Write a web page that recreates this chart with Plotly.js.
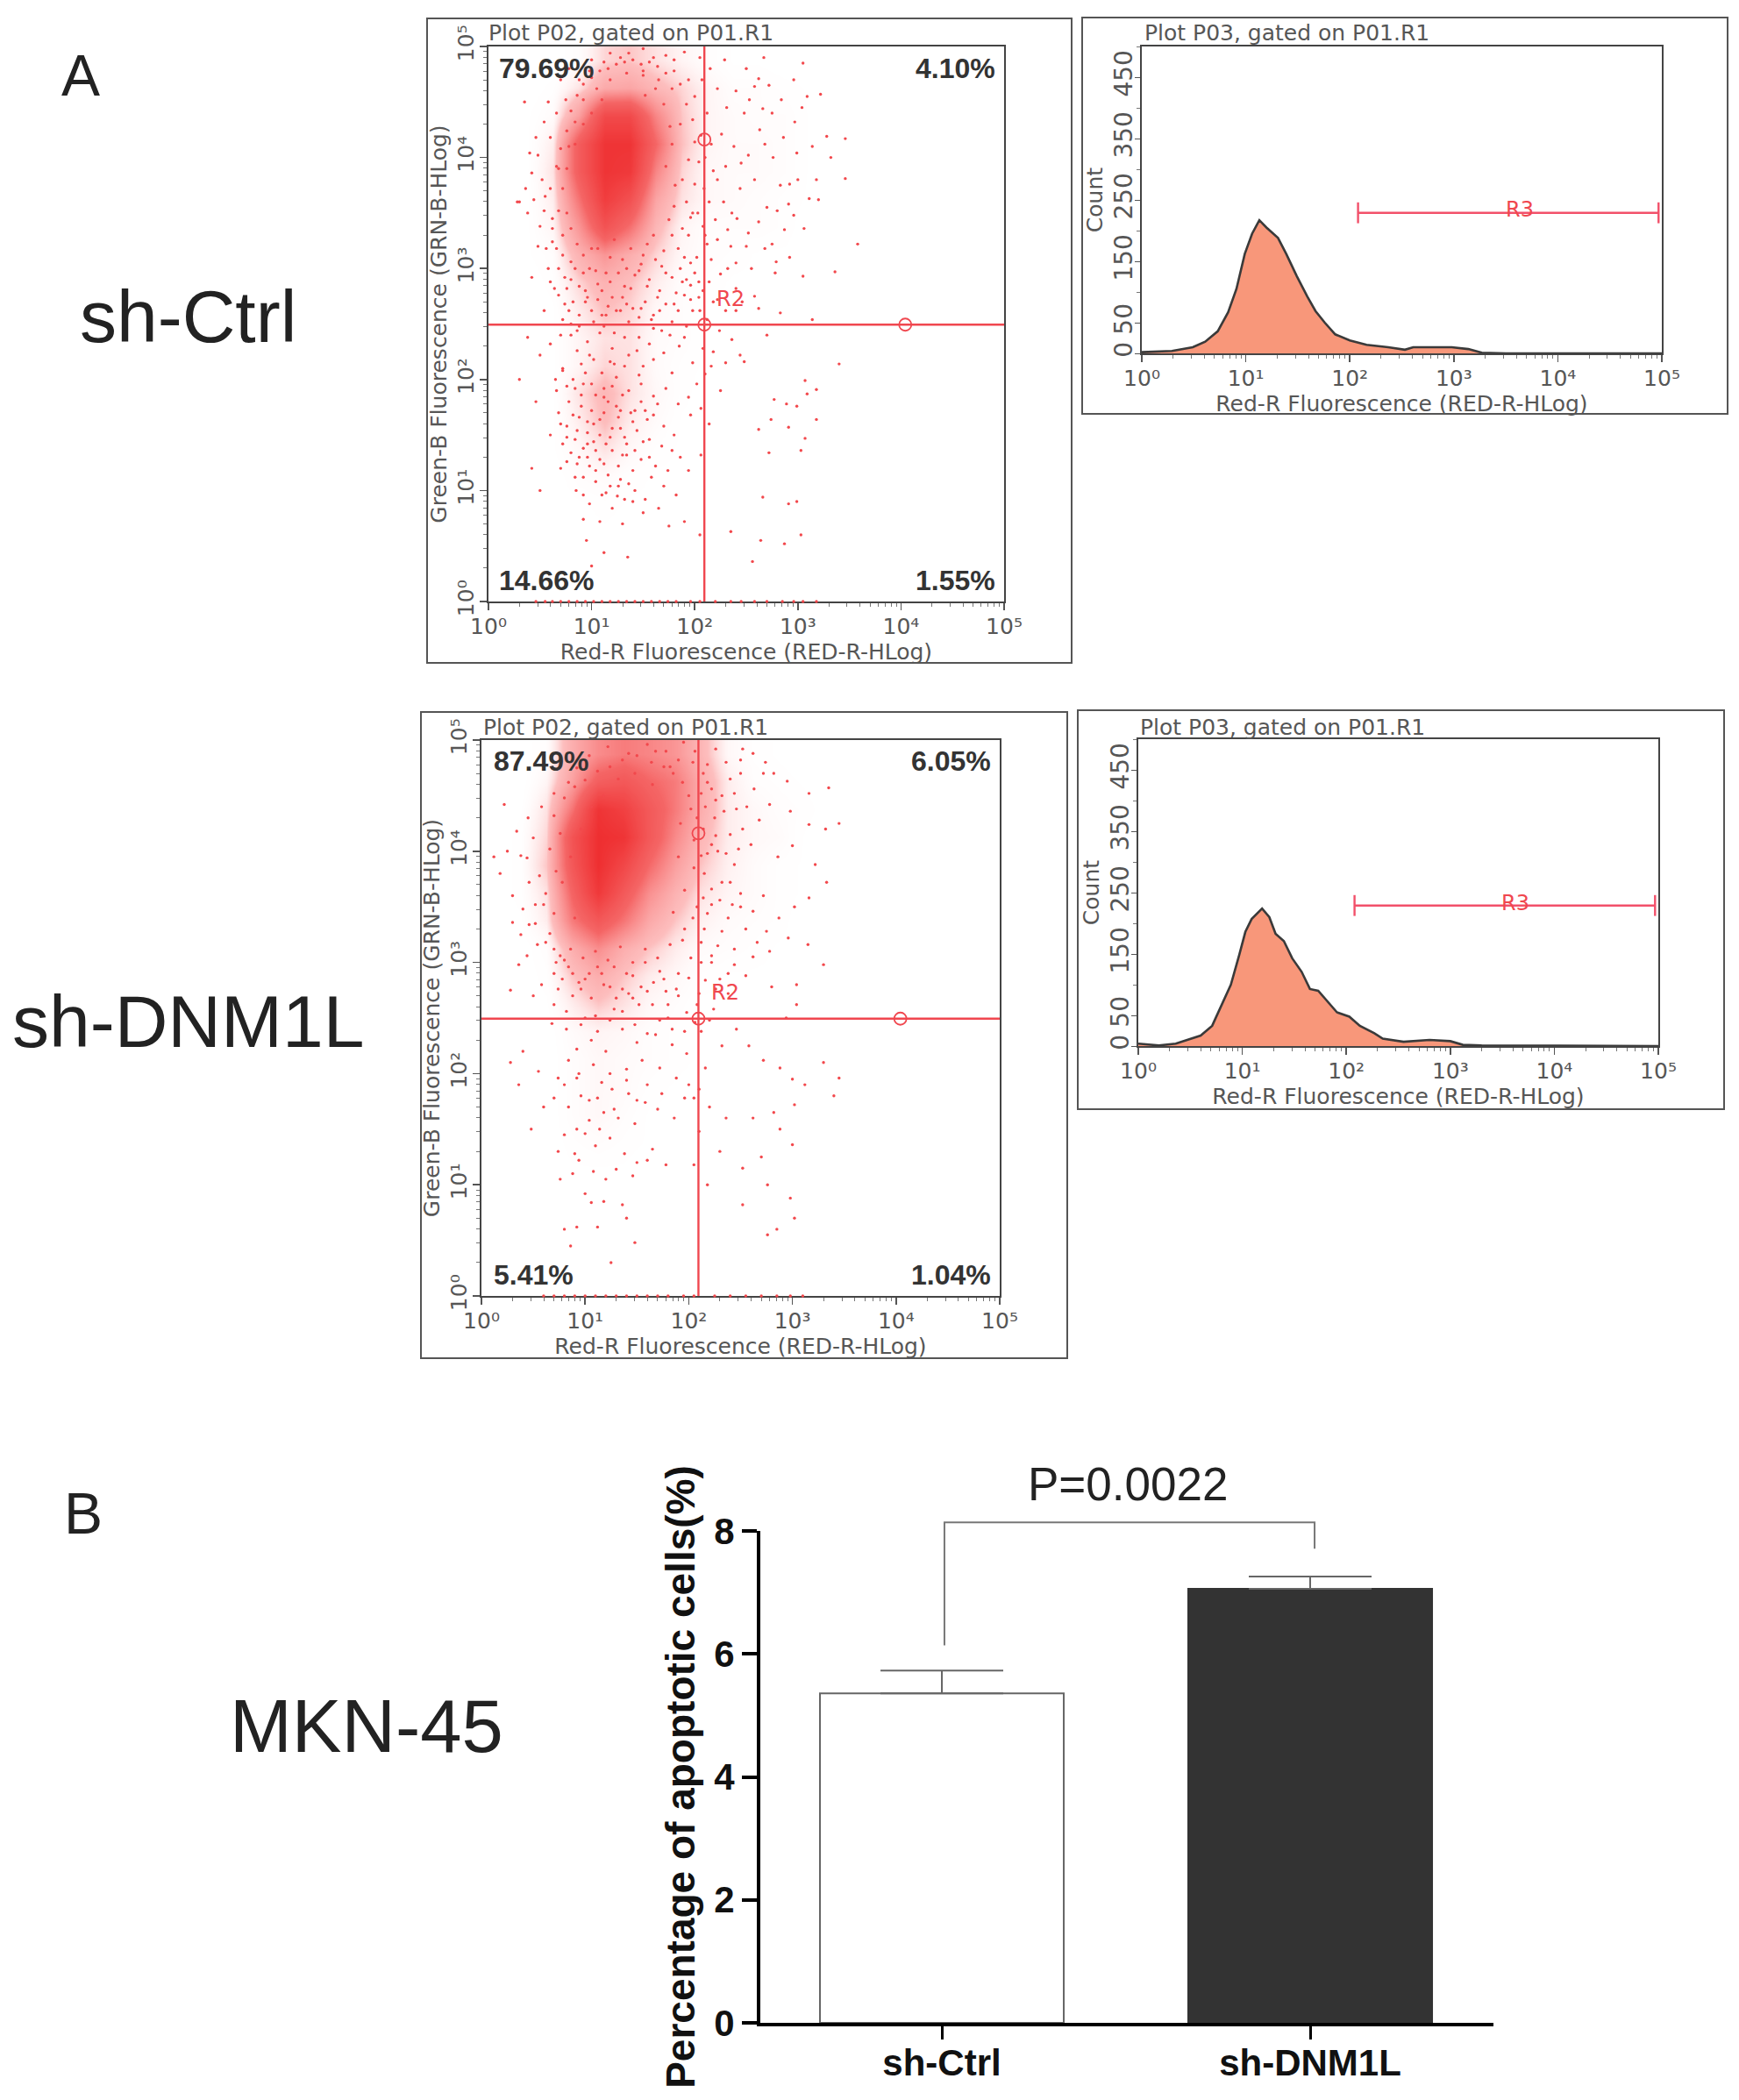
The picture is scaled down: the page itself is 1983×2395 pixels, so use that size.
<!DOCTYPE html>
<html><head><meta charset="utf-8">
<script src="https://cdn.plot.ly/plotly-3.0.1.min.js"></script>
<style>html,body{margin:0;padding:0;background:#fff}</style></head><body>
<div id="g" style="width:1983px;height:2395px"></div>
<script>
// ---------- data (dot clouds: pairs of x,y in hundredths of a decade) ----------
const decadeValues=[1,10,100,1000,10000,100000];
const decadeLabels=['10⁰','10¹','10²','10³','10⁴','10⁵'];
const minorLogTicks=[2,3,4,5,6,7,8,9,20,30,40,50,60,70,80,90,200,300,400,500,600,700,800,900,2000,3000,4000,5000,6000,7000,8000,9000,20000,30000,40000,50000,60000,70000,80000,90000];
const countTicks=[0,50,150,250,350,450];
const countMinor=[100,200,300,400,500];
const gridX=[0,25,50,75,100,125,150,175,200,225,250,275,300,325,350];
const gridY=[0,25,50,75,100,125,150,175,200,225,250,275,300,325,350,375,400,425,450,475,500];
// density rows, bottom to top, columns x=0..3.5 decades (percent of solid red)
const ctrlDensity=[
[0,0,0,0,0,0,0,0,0,0,0,0,0,0],
[0,0,0,0,0,0,0,0,0,0,0,0,0,0],
[0,0,0,0,1,0,0,0,0,0,0,0,0,0],
[0,0,0,1,2,1,1,0,0,0,0,0,0,0],
[0,0,0,3,4,2,1,1,0,0,0,1,0,0],
[0,0,1,5,10,5,2,1,0,0,0,1,0,0],
[0,0,1,8,16,8,4,1,0,0,1,1,0,0],
[0,0,1,10,18,10,5,2,0,1,1,1,0,0],
[0,0,1,6,12,10,4,2,1,1,1,1,0,0],
[0,0,1,6,10,10,4,3,1,0,1,0,0,0],
[0,0,1,8,15,12,5,3,1,1,0,0,0,0],
[0,0,2,12,20,15,8,3,2,1,1,1,0,0],
[0,1,3,20,32,22,12,5,3,2,1,1,0,0],
[0,1,6,32,66,46,18,6,3,3,3,2,0,0],
[0,1,8,45,85,68,26,10,5,4,3,2,1,0],
[0,1,10,58,92,88,38,12,5,4,4,3,1,0],
[0,1,8,58,92,92,50,15,6,4,4,3,1,0],
[0,1,4,28,74,74,38,14,6,4,3,3,1,0],
[0,0,2,10,24,26,18,12,6,3,3,2,1,0],
[0,0,0,3,12,14,10,6,3,1,1,0,0,0]];
const dnmDensity=[
[0,0,0,0,0,0,0,0,0,0,0,0,0,0],
[0,0,0,0,0,0,0,0,0,0,0,0,0,0],
[0,0,0,0,0,0,0,0,0,0,0,0,0,0],
[0,0,0,0,1,0,0,0,0,0,0,0,0,0],
[0,0,0,1,1,1,0,0,0,0,0,0,0,0],
[0,0,0,2,3,2,1,0,0,0,0,0,0,0],
[0,0,0,3,5,3,1,1,0,0,0,1,0,0],
[0,0,0,3,5,4,2,1,0,1,1,1,0,0],
[0,0,0,3,5,4,3,2,1,1,1,1,0,0],
[0,0,0,4,6,5,3,2,1,0,0,0,0,0],
[0,0,1,8,14,10,5,3,1,1,0,0,0,0],
[0,0,2,14,22,14,8,5,2,1,1,1,0,0],
[0,0,3,22,35,22,14,8,4,3,2,1,0,0],
[0,1,8,42,62,44,24,14,7,4,3,2,0,0],
[0,2,10,52,88,60,34,20,10,6,4,2,1,0],
[0,2,14,62,96,76,48,28,14,7,4,2,1,0],
[0,2,12,66,96,92,60,36,18,8,5,4,1,0],
[0,1,10,45,92,82,60,42,22,8,5,3,2,0],
[0,0,6,28,56,62,50,42,22,8,3,2,1,0],
[0,0,3,22,36,42,38,32,18,5,2,1,0,0]];
const ctrlDots=[267,490,305,485,229,488,262,471,272,465,309,455,322,457,297,432,328,419,346,417,299,404,332,400,283,375,346,381,311,363,320,362,291,358,358,322,336,297,305,293,279,306,283,260,314,254,248,216,244,222,340,214,277,182,289,178,309,187,318,191,307,199,299,176,318,164,262,155,274,164,291,157,307,147,303,136,272,134,299,90,266,94,291,88,235,63,264,55,303,60,287,52,256,36,
215,480,222,462,231,445,212,440,226,421,238,410,245,395,218,388,209,372,228,360,241,345,252,332,235,320,216,308,225,295,240,282,258,275,210,330,203,350,252,402,263,425,275,440,286,418,258,380,270,355,262,342,287,335,275,322,292,310,255,300,248,440,240,460,253,452,268,412,206,420,200,455,207,470,
190,495,172,492,150,498,128,490,112,486,98,478,88,470,75,452,66,440,60,418,48,402,42,386,35,450,28,360,55,365,62,345,72,330,50,338,68,390,78,410,84,432,92,452,105,462,118,470,134,476,150,478,165,470,178,462,192,448,186,430,178,412,172,392,181,375,192,360,175,344,160,330,184,318,196,305,168,302,150,312,134,300,118,310,100,318,86,322,72,312,58,300,64,282,74,268,80,290,92,296,106,286,120,274,138,282,152,270,166,262,182,278,196,285,205,262,192,248,176,240,160,246,146,256,128,262,110,258,94,270,80,250,70,240,54,262,42,292,30,360,
88,248,96,234,108,242,120,228,132,238,144,226,156,232,170,224,185,230,198,215,210,205,225,190,150,212,132,212,118,216,102,218,90,214,82,200,72,208,66,190,78,180,90,186,100,196,112,192,124,202,136,190,148,196,160,185,172,192,184,178,196,168,152,172,138,170,124,176,112,170,100,172,88,166,76,158,68,170,60,150,72,142,84,146,96,152,108,150,120,156,132,148,144,154,156,146,168,140,180,150,148,128,134,132,120,136,108,128,96,130,86,124,76,126,92,112,104,108,116,114,128,110,140,118,158,112,170,104,182,96,110,96,98,88,120,84,92,74,108,72,130,70,150,80,175,68,95,55,112,44,135,40,100,32,42,120,50,100,30,200,72,210,
65,200,50,222,38,238,60,232,46,180,70,120,85,100,125,95,140,90,165,84,190,72,205,60,
80,240,86,226,94,206,98,222,104,186,110,206,116,180,122,214,126,166,130,186,136,222,142,172,146,204,154,164,160,218,164,178,170,158,178,206,84,192,90,176,96,162,102,144,108,164,114,142,120,194,128,156,134,142,142,136,150,144,156,130,86,154,92,138,98,122,104,136,112,124,118,104,126,122,76,194,70,160,80,134,136,106,92,96,84,112,
76,282,82,270,88,258,94,280,100,262,106,272,112,248,118,288,124,262,130,274,136,252,142,294,148,264,154,284,160,258,166,280,172,268,178,292,184,262,190,276,198,262,204,288,84,300,92,312,98,300,106,318,114,296,122,326,130,308,138,318,146,298,154,322,162,308,170,316,178,330,186,300,194,330,202,310,212,322,
66,318,62,336,68,352,60,372,66,392,70,408,76,424,80,442,86,456,92,466,100,472,108,478,116,480,124,484,132,486,140,488,148,484,156,486,164,482,172,476,180,478,186,466,194,470,198,434,204,396,200,376,196,346,188,336,180,356,176,428,170,448,162,462,152,456,110,452,100,440,92,430,84,412,76,390,72,372,76,350,80,336,
48,320,56,318,38,350,44,362,52,380,46,418,54,432,58,450,70,470,78,480,62,324,54,352,40,404,36,372,
100,488,118,494,136,494,160,490,180,488,205,490,150,474,214,360,208,338,220,344,222,326,232,300,214,288,204,274,218,270,212,254,224,244,236,236,240,262,246,270,230,215,218,225,
68,300,74,292,80,306,88,284,96,274,104,298,110,280,116,266,126,296,132,284,140,264,148,304,156,290,164,274,172,296,180,268,188,288,196,272,200,296,208,280,72,254,78,262,86,244,102,252,114,258,122,242,134,268,146,238,158,254,168,244,178,252,190,238,60,288,68,276,
188,380,194,398,200,414,198,350,190,310,192,290,210,400,216,412,222,380,230,392,236,350,244,372,232,335,240,305,250,320,222,272,230,262,208,228,216,212,202,196,194,184,206,174,214,160,186,130,178,136,194,118,206,132,
250,480,258,464,266,444,276,400,284,452,296,470,304,445,314,410,318,380,300,380,292,376,280,352,306,336,296,348,268,318,278,296,262,264,270,240,
92,196,102,160,112,184,118,148,128,172,130,132,140,162,148,180,160,168,82,168,76,148,88,130,96,142,104,118,114,98,126,104,132,92,142,100,152,92,162,122,174,118,
46,0,55,0,62,0,70,0,78,0,86,0,94,0,102,0,110,0,118,0,126,0,134,0,142,0,150,0,158,0,166,0,174,0,182,0,196,0,205,0,220,0,235,0,245,0,258,0,270,0,285,0,296,0,305,0,318,0];
const dnmDots=[252,492,274,480,282,470,295,463,316,452,335,457,250,470,263,456,278,442,298,436,316,424,332,420,345,425,300,405,286,395,322,388,333,372,316,358,302,350,287,340,275,328,296,322,315,316,330,298,262,305,255,288,280,278,304,280,304,262,294,250,246,240,258,225,272,212,288,205,300,195,312,190,330,210,345,196,340,180,302,172,282,165,262,160,288,150,300,136,270,125,252,115,276,100,298,88,302,70,252,82,285,60,276,55,
226,492,218,478,240,465,232,450,246,438,225,430,240,415,252,420,228,400,244,388,215,380,232,372,250,362,222,352,238,340,255,330,215,330,228,315,212,300,244,298,230,285,210,272,224,258,212,238,232,225,216,205,200,190,205,178,220,170,236,160,210,148,230,130,205,118,218,100,
195,498,178,490,160,496,142,488,122,494,104,486,92,475,84,462,70,452,58,440,45,430,34,418,25,400,18,380,30,360,46,372,60,352,52,335,38,325,44,306,62,318,72,300,78,285,58,280,50,270,70,262,88,270,100,285,112,296,124,278,140,290,158,300,176,285,190,270,198,255,180,250,165,262,146,268,128,258,110,252,96,244,82,240,68,245,92,222,106,230,120,220,136,240,150,228,168,235,184,226,198,218,172,205,155,212,140,204,124,200,108,208,94,200,80,190,70,178,84,170,96,180,112,178,126,186,142,182,158,174,170,168,186,160,148,155,132,160,118,165,104,158,92,150,80,145,74,130,90,128,110,135,124,142,138,128,150,120,165,132,178,118,108,112,120,105,88,110,76,105,100,92,118,85,136,82,140,70,80,60,92,62,112,62,148,48,86,45,125,30,
40,220,28,210,55,202,60,170,48,150,36,190,
22,442,12,395,28,275,70,312,90,340,78,372,86,395,96,420,106,440,118,450,132,465,148,470,165,460,185,470,200,450,208,430,192,425,205,410,190,395,205,385,196,365,208,350,185,345,196,330,
66,326,70,344,62,362,72,382,66,402,76,416,70,432,80,448,90,458,100,464,112,472,124,476,136,482,150,486,164,480,176,476,190,482,204,480,214,470,222,456,212,452,202,438,214,420,222,406,212,396,222,366,214,358,204,340,212,318,202,304,190,290,178,274,166,282,154,278,142,272,130,268,118,280,106,268,94,282,84,296,76,306,86,312,98,304,110,310,122,302,134,314,146,300,158,312,170,304,182,316,194,320,
100,250,112,238,124,248,136,256,148,244,160,236,172,248,184,240,196,238,206,246,220,248,226,276,238,272,82,256,74,276,
236,480,250,482,262,488,272,470,244,452,256,440,268,428,260,406,248,402,240,372,250,350,262,346,272,360,278,310,266,318,
46,334,52,352,56,378,44,394,50,412,38,396,30,336,40,348,36,298,54,316,
70,290,80,302,88,290,96,276,104,290,116,290,128,296,136,276,146,288,152,262,160,274,172,292,180,262,188,276,200,286,208,262,216,284,222,300,
168,490,182,476,194,462,206,490,218,462,226,446,234,436,216,440,226,414,236,398,218,398,230,356,242,352,218,344,232,328,244,312,222,306,238,290,
92,196,104,176,116,192,128,168,140,194,150,176,160,190,174,182,188,196,196,178,210,186,84,212,74,196,100,146,114,150,130,114,146,108,160,122,94,122,106,84,
60,0,70,0,80,0,90,0,100,0,110,0,120,0,130,0,140,0,150,0,160,0,170,0,180,0,195,0,205,0,225,0,240,0,255,0,270,0,285,0,298,0,310,0];
const ctrlHistX=[1,1.95,3.09,4.07,5.37,6.76,8.13,9.77,11.5,13.5,15.8,20.4,24.5,30.9,38.9,46.8,57.5,72.4,100,145,234,339,407,603,955,1380,1860,3160,100000];
const ctrlHistY=[2,4,10,19,36,67,105,162,195,217,205,188,162,126,93,69,50,31,21,14,10,6,10,10,10,7,1,0,0];
const dnmHistX=[1,1.58,2.29,3.02,3.98,5.13,6.17,7.76,9.33,10.7,12.3,15.5,18.2,20.9,25.1,30.2,37.2,44.7,53.7,67.6,81.3,107,135,186,224,355,631,1000,1320,2000,100000];
const dnmHistY=[4,1,4,10,17,33,62,100,148,186,207,224,210,183,171,143,121,93,90,71,55,48,33,21,12,7,10,8,2,1,0];
const gateX=124, gateY=312, gateRightX=11000, gateTopY=14500;
const r3X=[120,93000], r3Y=229, r3CapHalf=17;
const groups=['sh-Ctrl','sh-DNM1L'];
const groupPos=[0,1];
const means=[5.36,7.06];
const errors=[0.37,0.20];
const bracketX=[0.007,0.007,1.012,1.012];
const bracketY=[6.14,8.14,8.14,7.71];
const zeros=[0,0];

// ---------- layout helpers ----------
const W=1983,H=2395;
const dx=(a,b)=>[a/W,b/W], dy=(t,b)=>[1-b/H,1-t/H];
const px=v=>v/W, py=v=>1-v/H;
const dec=a=>a.map(v=>Math.pow(10,v/100));
const flowFont='"DejaVu Sans"', armFont='"Liberation Sans"';
const textGrey='#565656', gate='#f0474f';
function logAxis(domain,anchor,extra){return Object.assign({type:'log',domain,anchor,range:[0,5],tickmode:'array',tickvals:decadeValues,ticktext:decadeLabels,ticklabelstandoff:-3,
  ticks:'outside',ticklen:8,tickwidth:1.5,tickcolor:'#555',showgrid:false,zeroline:false,showline:true,mirror:true,linecolor:'#444',linewidth:2,
  tickfont:{family:flowFont,size:25,color:textGrey},minor:{ticks:'outside',ticklen:4,tickwidth:1,tickcolor:'#777',tickmode:'array',tickvals:minorLogTicks,showgrid:false}},extra||{});}
function countAxis(domain,anchor){return {domain,anchor,range:[0,500],tickmode:'array',tickvals:countTicks,tickangle:-90,ticks:'outside',ticklen:6,tickcolor:'#555',ticklabelstandoff:-8,
   minor:{ticks:'outside',ticklen:4,tickcolor:'#777',tickmode:'array',tickvals:countMinor,showgrid:false},
   showgrid:false,zeroline:false,showline:true,mirror:true,linecolor:'#444',linewidth:2,tickfont:{family:flowFont,size:28,color:textGrey},title:axTitle('Count',0)};}
function axTitle(t,st){return {text:t,standoff:st,font:{family:flowFont,size:25,color:textGrey}};}
function splitPairs(a){const x=[],y=[];for(let i=0;i<a.length;i+=2){x.push(a[i]);y.push(a[i+1]);}return {x:dec(x),y:dec(y)};}

const traces=[];
function scatterPanel(n,dens,dots){
  const xa='x'+n,ya='y'+n;
  traces.push({type:'heatmap',xaxis:xa,yaxis:ya,x:dec(gridX),y:dec(gridY),z:dens,zmin:0,zmax:100,zsmooth:'best',showscale:false,hoverinfo:'skip',
    colorscale:[[0,'rgba(255,255,255,0)'],[0.15,'rgba(250,110,110,0.45)'],[0.5,'rgba(243,80,80,0.88)'],[1,'#ee2a2c']]});
  const d=splitPairs(dots);
  traces.push({type:'scatter',mode:'markers',xaxis:xa,yaxis:ya,x:d.x,y:d.y,cliponaxis:false,marker:{size:3.4,color:'#f2484c'},showlegend:false});
  traces.push({type:'scatter',mode:'lines',xaxis:xa,yaxis:ya,x:[gateX,gateX,null,1,100000],y:[1,100000,null,gateY,gateY],line:{color:gate,width:2.4},showlegend:false});
  traces.push({type:'scatter',mode:'markers',xaxis:xa,yaxis:ya,x:[gateX,gateRightX,gateX],y:[gateY,gateY,gateTopY],marker:{symbol:'circle-open',size:14,color:gate,line:{width:1.8,color:gate}},showlegend:false});
}
function histPanel(n,hx,hy){
  const xa='x'+n,ya='y'+n;
  traces.push({type:'scatter',mode:'lines',xaxis:xa,yaxis:ya,x:hx,y:hy,fill:'tozeroy',fillcolor:'#f8977a',line:{color:'#3a3a3a',width:2.6},showlegend:false});
  traces.push({type:'scatter',mode:'lines',xaxis:xa,yaxis:ya,x:[r3X[0],r3X[1],null,r3X[0],r3X[0],null,r3X[1],r3X[1]],y:[r3Y,r3Y,null,r3Y-r3CapHalf,r3Y+r3CapHalf,null,r3Y-r3CapHalf,r3Y+r3CapHalf],line:{color:'#f2506a',width:2.4},showlegend:false});
}
scatterPanel(1,ctrlDensity,ctrlDots);
histPanel(2,ctrlHistX,ctrlHistY);
scatterPanel(3,dnmDensity,dnmDots);
histPanel(4,dnmHistX,dnmHistY);
traces.push({type:'bar',xaxis:'x5',yaxis:'y5',x:groupPos,y:means,width:0.662,showlegend:false,
  marker:{color:['#ffffff','#333333'],line:{color:['#666666','#333333'],width:2}},
  error_y:{type:'data',symmetric:false,array:errors,arrayminus:zeros,color:'#666',thickness:2,width:70}});
traces.push({type:'scatter',mode:'lines',xaxis:'x5',yaxis:'y6',x:bracketX,y:bracketY,line:{color:'#777',width:2},showlegend:false});

const xT='Red-R Fluorescence (RED-R-HLog)', yT='Green-B Fluorescence (GRN-B-HLog)';
const layout={width:W,height:H,margin:{l:0,r:0,t:0,b:0},paper_bgcolor:'#fff',plot_bgcolor:'rgba(0,0,0,0)',showlegend:false,
 xaxis: logAxis(dx(557,1145),'y', {layer:'below traces',title:axTitle(xT,0)}),
 yaxis: logAxis(dy(53,686),'x', {layer:'below traces',tickangle:-90,title:axTitle(yT,0)}),
 xaxis3:logAxis(dx(549,1140),'y3',{layer:'below traces',title:axTitle(xT,0)}),
 yaxis3:logAxis(dy(844,1478),'x3',{layer:'below traces',tickangle:-90,title:axTitle(yT,0)}),
 xaxis2:logAxis(dx(1302,1895),'y2',{title:axTitle(xT,0)}),
 yaxis2:countAxis(dy(53,403),'x2'),
 xaxis4:logAxis(dx(1298,1891),'y4',{title:axTitle(xT,0)}),
 yaxis4:countAxis(dy(843,1193),'x4'),
 xaxis5:{domain:dx(867,1703),anchor:'y5',range:[-0.4929,1.4976],tickmode:'array',tickvals:groupPos,ticktext:groups,showgrid:false,zeroline:false,showline:true,linecolor:'#000',linewidth:4,ticks:'outside',ticklen:15,tickwidth:3,tickcolor:'#000',ticklabelstandoff:-9,
   tickfont:{family:armFont,size:42,color:'#111',weight:700}},
 yaxis5:{domain:dy(1746,2307),anchor:'x5',range:[0,8],tickvals:[0,2,4,6,8],showgrid:false,zeroline:false,showline:true,linecolor:'#000',linewidth:4,ticks:'outside',ticklen:17,tickwidth:4,tickcolor:'#000',
   tickfont:{family:armFont,size:42,color:'#111',weight:700},title:{text:'Percentage of apoptotic cells(%)',standoff:8,font:{family:armFont,size:46,color:'#111',weight:700}}},
 yaxis6:{domain:dy(1700,2307),anchor:'x5',range:[0,8.656],visible:false},
 shapes:[[487,21,1222,756],[1234,20,1970,472],[480,812,1217,1549],[1229,810,1966,1265]].map(r=>({type:'rect',xref:'paper',yref:'paper',x0:px(r[0]),x1:px(r[2]),y0:py(r[3]),y1:py(r[1]),line:{color:'#555',width:2}})),
 annotations:[]
};
function note(text,x,y,size,opts){layout.annotations.push(Object.assign({text,xref:'paper',yref:'paper',x:px(x),y:py(y),showarrow:false,xanchor:'left',yanchor:'middle',font:{family:armFont,size,color:'#222'}},opts||{}));}
const mid={xanchor:'center'};
note('A',92,86,66,mid);note('B',95,1726,66,mid);
note('sh-Ctrl',214,361,84,mid);note('sh-DNM1L',214,1165,84,mid);note('MKN-45',418,1968,85,mid);
note('P=0.0022',1286,1692,53,mid);
const pct=()=>({family:armFont,size:32,color:'#333',weight:700});
note('79.69%',567,78,32,{font:pct()});note('4.10%',1137,78,32,{xanchor:'right',font:pct()});
note('14.66%',567,662,32,{font:pct()});note('1.55%',1137,662,32,{xanchor:'right',font:pct()});
note('87.49%',561,868,32,{font:pct()});note('6.05%',1132,868,32,{xanchor:'right',font:pct()});
note('5.41%',561,1454,32,{font:pct()});note('1.04%',1132,1454,32,{xanchor:'right',font:pct()});
const ttl={family:flowFont,size:25,color:textGrey}, red={family:flowFont,size:24,color:gate};
note('Plot P02, gated on P01.R1',555,38,25,{font:ttl});note('Plot P03, gated on P01.R1',1303,38,25,{font:ttl});
note('Plot P02, gated on P01.R1',549,829,25,{font:ttl});note('Plot P03, gated on P01.R1',1298,829,25,{font:ttl});
note('R2',815,341,24,{font:red});note('R2',809,1132,24,{font:red});
note('R3',1733,239,24,{font:red,xanchor:'center'});note('R3',1728,1030,24,{font:red,xanchor:'center'});
Plotly.newPlot('g',traces,layout,{displayModeBar:false,staticPlot:true});
</script></body></html>
